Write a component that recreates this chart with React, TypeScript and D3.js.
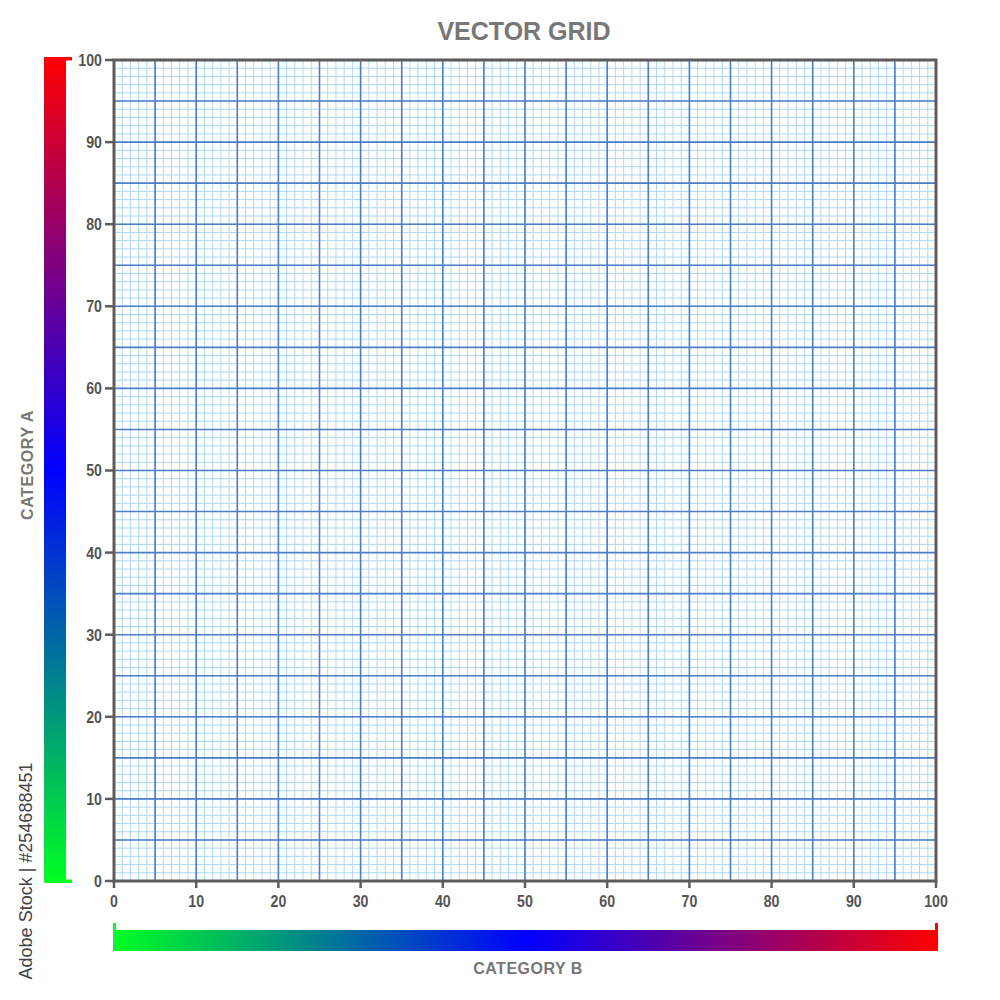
import React from 'react';
import * as d3 from 'd3';

const xTicks = [0, 10, 20, 30, 40, 50, 60, 70, 80, 90, 100];
const yTicks = [0, 10, 20, 30, 40, 50, 60, 70, 80, 90, 100];
const majorStep = 5;
const minorStep = 1;
const gradientStops = [
  { offset: 0, color: '#00ff22' },
  { offset: 0.5, color: '#0000ff' },
  { offset: 1, color: '#ff0000' },
];

const width = 1000;
const height = 1000;
const margin = { top: 60, right: 64, bottom: 119, left: 114 };

const App: React.FC = () => {
  const x = d3.scaleLinear().domain([0, 100]).range([margin.left, width - margin.right]);
  const y = d3.scaleLinear().domain([0, 100]).range([height - margin.bottom, margin.top]);

  const minor = d3.range(0, 100 + minorStep, minorStep);
  const major = d3.range(0, 100 + majorStep, majorStep);

  const x0 = x(0), x1 = x(100), y0 = y(0), y1 = y(100);
  const font = '"Liberation Sans", Arial, sans-serif';
  // tick labels in the original are a condensed bold face
  const narrow = 0.86;

  return (
    <svg
      width={width}
      height={height}
      viewBox={`0 0 ${width} ${height}`}
      style={{ position: 'absolute', left: 0, top: 0, background: '#fff' }}
    >
      <defs>
        <linearGradient id="gradV" x1="0" y1="1" x2="0" y2="0">
          {gradientStops.map(s => (
            <stop key={s.offset} offset={s.offset} stopColor={s.color} />
          ))}
        </linearGradient>
        <linearGradient id="gradH" x1="0" y1="0" x2="1" y2="0">
          {gradientStops.map(s => (
            <stop key={s.offset} offset={s.offset} stopColor={s.color} />
          ))}
        </linearGradient>
      </defs>

      {/* title */}
      <text x={524} y={40} textAnchor="middle" fontFamily={font} fontWeight="bold"
        fontSize={25} fill="#777">VECTOR GRID</text>

      {/* minor grid */}
      <g stroke="#acd8f8" strokeWidth={1}>
        {minor.map(v => (
          <line key={'mx' + v} x1={x(v)} x2={x(v)} y1={y0} y2={y1} />
        ))}
        {minor.map(v => (
          <line key={'my' + v} x1={x0} x2={x1} y1={y(v)} y2={y(v)} />
        ))}
      </g>

      {/* major grid */}
      <g stroke="#4d7ec6" strokeWidth={1.6}>
        {major.map(v => (
          <line key={'Mx' + v} x1={x(v)} x2={x(v)} y1={y0} y2={y1} />
        ))}
        {major.map(v => (
          <line key={'My' + v} x1={x0} x2={x1} y1={y(v)} y2={y(v)} />
        ))}
      </g>

      {/* frame */}
      <rect x={x0} y={y1} width={x1 - x0} height={y0 - y1} fill="none" stroke="#5c5c5c" strokeWidth={3} />

      {/* y axis ticks */}
      <g>
        {yTicks.map(v => (
          <g key={'yt' + v}>
            <line x1={x0 - 9} x2={x0} y1={y(v)} y2={y(v)} stroke="#5c5c5c" strokeWidth={2.5} />
            <text transform={`translate(${x0 - 12},${y(v)}) scale(${narrow},1)`} dy="0.36em"
              textAnchor="end" fontFamily={font} fontWeight="bold" fontSize={16.5} fill="#555">{v}</text>
          </g>
        ))}
      </g>

      {/* x axis ticks */}
      <g>
        {xTicks.map(v => (
          <g key={'xt' + v}>
            <line x1={x(v)} x2={x(v)} y1={y0} y2={y0 + 7} stroke="#5c5c5c" strokeWidth={2.5} />
            <text transform={`translate(${x(v)},907) scale(${narrow},1)`} textAnchor="middle"
              fontFamily={font} fontWeight="bold" fontSize={16.5} fill="#555">{v}</text>
          </g>
        ))}
      </g>

      {/* vertical colour bar */}
      <rect x={44} y={57} width={22} height={826} fill="url(#gradV)" />
      <rect x={44} y={57} width={28} height={3.5} fill="#ff0000" />
      <rect x={44} y={879.5} width={28} height={3.5} fill="#00ff22" />

      {/* horizontal colour bar */}
      <rect x={113} y={930} width={825} height={21} fill="url(#gradH)" />
      <rect x={113} y={923} width={3} height={8} fill="#00ff22" />
      <rect x={935} y={923} width={3} height={8} fill="#ff0000" />

      {/* axis titles */}
      <text transform="translate(33,465) rotate(-90)" textAnchor="middle" fontFamily={font}
        fontWeight="bold" fontSize={16} letterSpacing={0.6} fill="#777">CATEGORY A</text>
      <text x={528} y={974} textAnchor="middle" fontFamily={font}
        fontWeight="bold" fontSize={16} letterSpacing={0.5} fill="#777">CATEGORY B</text>

      {/* stock id */}
      <text transform="translate(32,871) rotate(-90)" textAnchor="middle" fontFamily={font}
        fontSize={18} fill="#444">Adobe Stock | #254688451</text>
    </svg>
  );
};

export default App;
